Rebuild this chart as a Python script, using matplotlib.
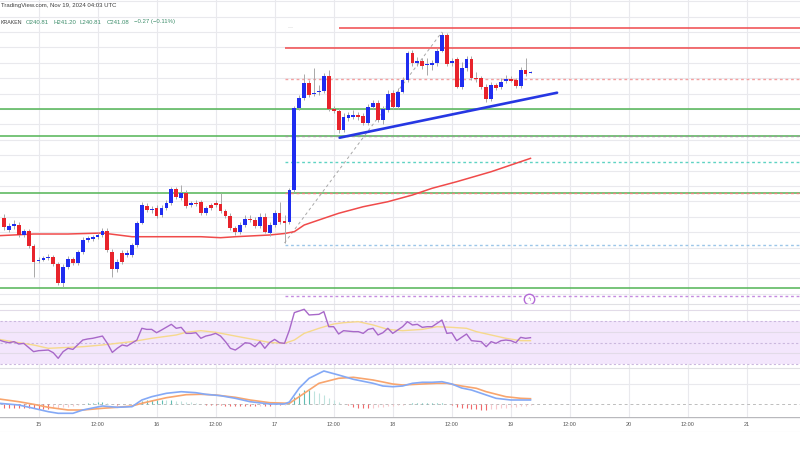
import matplotlib
matplotlib.use("Agg")
import matplotlib.pyplot as plt

# ---------------- data ----------------
hours = list(range(-7, 101))   # hourly candles, hour 0 = Nov 15 00:00 UTC

opens = [217.30, 215.40, 216.00, 216.18, 214.56, 215.13, 212.77,
         210.34, 210.58, 210.78, 210.94, 209.80, 206.72, 209.41, 210.62, 210.06, 211.85,
         213.75, 213.91, 214.23, 214.56, 215.21, 211.85, 208.99, 211.59, 211.31, 211.31,
         212.94, 216.56, 219.27, 218.62, 218.99, 217.80, 218.99, 219.70, 221.98, 220.52,
         221.42, 219.38, 219.80, 219.92, 218.08, 219.43, 219.70, 219.54, 218.45, 217.69,
         215.65, 215.00, 216.18, 217.20, 216.99, 216.02, 217.53, 214.93, 216.18, 218.13,
         216.83, 216.67, 221.86, 235.17, 236.79, 239.28, 237.44, 237.72, 237.98, 240.41,
         234.96, 234.73, 231.60, 233.50, 233.76, 234.04, 233.87, 232.79, 235.38, 236.03,
         233.22, 234.85, 237.56, 235.29, 237.82, 239.72, 244.05, 242.43, 242.85, 242.07,
         242.15, 242.43, 244.47, 247.02, 242.43, 243.08, 238.63, 241.61, 243.08, 240.09,
         239.99, 238.63, 236.58, 238.90, 238.53, 239.55, 239.83, 239.72, 238.74, 241.34, 240.81]
highs = [218.00, 216.50, 217.00, 216.67, 215.50, 215.50, 213.10,
         211.00, 211.15, 211.50, 211.30, 210.20, 209.85, 211.15, 211.00, 212.10, 214.23,
         214.40, 214.56, 214.90, 215.70, 215.65, 212.30, 210.66, 212.10, 212.10, 213.26,
         216.83, 219.96, 219.70, 219.27, 219.43, 219.43, 220.24, 222.35, 222.40, 222.67,
         221.86, 220.08, 220.24, 220.24, 219.27, 219.75, 220.24, 221.33, 218.78, 218.13,
         216.02, 216.67, 217.80, 217.80, 217.48, 218.13, 218.13, 216.67, 218.62, 219.92,
         217.80, 222.19, 235.50, 237.28, 240.69, 239.72, 241.61, 238.90, 240.85, 241.34,
         235.50, 235.17, 234.36, 234.52, 234.85, 234.52, 234.36, 235.82, 236.47, 236.47,
         235.50, 238.09, 238.09, 238.42, 240.20, 244.42, 244.59, 243.45, 243.29, 243.29,
         242.96, 244.91, 247.51, 247.34, 243.29, 243.45, 242.64, 243.61, 243.61, 241.01,
         240.37, 239.07, 239.39, 239.23, 240.04, 240.53, 240.37, 240.04, 241.83, 243.24, 241.20]
lows = [215.40, 215.05, 215.50, 214.23, 214.20, 212.45, 207.79,
        210.00, 210.34, 210.50, 209.50, 206.45, 206.17, 209.04, 209.70, 209.70, 211.48,
        213.40, 213.60, 213.90, 214.23, 211.80, 207.80, 208.55, 209.85, 211.00, 211.00,
        212.60, 216.35, 218.30, 218.13, 217.32, 217.48, 218.62, 219.43, 220.40, 220.24,
        218.94, 219.10, 219.27, 217.80, 217.80, 218.62, 219.10, 218.13, 217.32, 215.37,
        214.56, 214.72, 215.86, 216.67, 215.70, 215.70, 214.88, 214.40, 215.86, 216.35,
        213.26, 216.35, 221.54, 234.85, 236.47, 236.96, 237.12, 237.28, 237.60, 234.68,
        234.36, 231.11, 231.28, 233.06, 233.39, 233.22, 232.41, 232.41, 235.01, 232.90,
        232.57, 234.52, 235.01, 235.01, 237.60, 239.39, 241.99, 241.99, 241.50, 240.53,
        241.34, 241.99, 244.26, 241.99, 241.99, 238.42, 238.26, 241.18, 239.72, 239.39,
        238.26, 236.15, 236.31, 238.09, 238.26, 239.23, 239.39, 238.42, 238.42, 240.37, 240.81]
closes = [215.90, 216.00, 216.35, 214.56, 215.21, 212.77, 210.23,
          210.58, 210.78, 210.94, 209.80, 206.72, 209.41, 210.62, 210.06, 211.85, 213.75,
          214.02, 214.19, 214.56, 215.21, 212.13, 208.99, 210.23, 210.23, 211.59, 212.94,
          216.56, 219.43, 218.62, 218.73, 217.64, 218.99, 219.70, 221.98, 220.68, 221.42,
          219.27, 219.70, 219.54, 218.08, 218.89, 218.99, 219.43, 218.45, 217.69, 215.65,
          215.00, 216.18, 217.11, 216.99, 216.02, 217.53, 215.10, 216.18, 218.13, 216.67,
          216.51, 221.86, 235.17, 236.79, 239.23, 237.28, 237.65, 237.98, 240.41, 234.96,
          234.73, 231.60, 233.66, 234.04, 234.04, 233.66, 232.79, 235.38, 235.93, 233.22,
          234.96, 237.44, 235.29, 237.82, 239.72, 244.05, 242.43, 242.85, 241.99, 242.15,
          242.43, 244.47, 247.02, 242.31, 242.85, 238.63, 241.61, 243.08, 239.99, 239.88,
          238.63, 236.58, 238.90, 238.37, 239.44, 239.83, 239.60, 238.74, 241.34, 240.64, 241.08]

ma_hours = [-8, -1, 6, 13, 19, 26, 33, 37, 40, 47, 50, 52, 54, 58, 61, 66, 71, 76, 80, 85, 92, 100]
ma_values = [214.45, 214.72, 214.72, 214.88, 214.28, 214.28, 214.28, 214.12, 214.28, 214.56,
             214.80, 215.10, 216.18, 217.27, 218.08, 219.15, 219.96, 221.05, 222.14, 223.21,
             224.83, 227.00]

support_levels = [235.09, 230.63, 221.41, 205.91]
resistance_levels = [244.86, 248.11]
resistance_start = [50, 61]
fib_start = 50
fib_levels = [212.94, 221.41, 226.36, 230.63, 239.80, 204.58]
fib_colors = ["#9cc6e8", "#f08080", "#5fd3c3", "#9a9a9a", "#f4a0a0", "#c58be0"]
fib_anchor_hours = [50, 82]
fib_anchor_prices = [213.26, 247.51]
trend_hours = [61.2, 105.4]
trend_prices = [230.35, 237.65]
marker_hour = 99.7
marker_price = 204.17

rsi_hours = [-8, -7, -6, -5, -4, -3, -1, 0, 2, 3, 4, 5, 6, 7, 9, 10, 11,
             13, 14, 15, 16, 17, 18, 20, 21, 22, 23, 24, 25,
             27, 28, 29, 30, 31, 32, 33, 34, 35, 36, 37, 38, 39, 40,
             41, 42, 43, 44, 45, 46, 47, 48, 49, 50, 51, 52,
             54, 55, 57, 58, 59, 60, 61, 62,
             64, 65, 66, 67, 68, 69, 70, 71, 72, 73, 74, 75, 76,
             77, 78, 79, 80, 81, 82, 83, 84, 85, 86, 87, 88,
             90, 91, 92, 93, 94, 95, 96, 97, 98, 99, 100]
rsi_values = [52.3, 50.8, 49.8, 50.8, 48.6, 49.2, 41.5, 42.4, 43.0, 40.5, 35.3, 41.5, 44.6, 43.6, 52.3, 53.3, 53.9,
              56.0, 49.2, 40.8, 44.6, 47.7, 46.7, 52.3, 63.2, 62.2, 62.2, 59.1, 61.6,
              66.9, 63.2, 64.1, 58.5, 58.5, 59.1, 53.9, 56.0, 57.0, 58.5, 56.0, 50.8, 44.6, 43.0,
              46.1, 49.8, 49.2, 46.1, 50.8, 44.6, 50.0, 52.9, 49.8, 49.2, 61.6, 77.8,
              80.9, 75.6, 76.2, 78.7, 64.7, 64.7, 57.9, 61.0,
              60.1, 60.1, 58.5, 62.2, 63.2, 57.0, 59.1, 63.2, 58.5, 61.6, 64.7, 69.4, 66.3,
              66.9, 64.1, 64.7, 64.7, 67.8, 70.9, 58.5, 59.1, 51.7, 54.8, 57.9, 51.7,
              50.8, 46.1, 50.8, 49.2, 51.7, 52.3, 51.7, 49.8, 54.8, 53.9, 54.5]
rsi_ma_hours = [-8, -4, -1, 2, 9, 13, 19, 23, 28, 30, 33, 36, 40, 47, 50, 52, 54, 57, 60, 62,
                65, 68, 71, 74, 78, 81, 84, 87, 89, 92, 95, 98, 100]
rsi_ma_values = [52.9, 49.8, 47.7, 44.6, 46.1, 47.7, 50.8, 53.9, 57.0, 59.5, 61.0, 59.5, 56.0, 50.0,
                 49.2, 52.3, 58.5, 63.2, 67.2, 68.4, 69.4, 66.3, 62.2, 61.0, 62.2, 64.7, 64.1,
                 63.2, 60.1, 57.0, 53.9, 51.7, 51.7]

macd_hours = [-8, -4, -1, 2, 4, 7, 9, 13, 16, 19, 21, 23, 26, 29, 32, 34, 37, 40, 43, 47,
              50, 51, 52, 53, 55, 58, 61, 64, 68, 70, 72, 74, 76, 78, 80, 82, 84, 86, 88, 91,
              93, 96, 100]
macd_values = [0.07, -0.1, -0.43, -0.77, -0.93, -0.93, -0.6, -0.2, -0.33, -0.27,
               0.4, 0.73, 1.07, 1.23, 1.13, 0.97, 0.83, 0.57, 0.23, 0.0,
               0.0, 0.2, 0.9, 1.6, 2.57, 3.3, 2.9, 2.47, 2.07, 1.8,
               1.73, 1.8, 2.07, 2.17, 2.17, 2.23, 2.0, 1.6, 1.4, 0.9,
               0.57, 0.4, 0.4]
signal_hours = [-8, -4, -1, 2, 6, 9, 13, 16, 19, 21, 23, 26, 30, 33, 36, 40, 43, 47, 51, 54,
                57, 61, 64, 68, 72, 74, 78, 81, 83, 86, 89, 91, 95, 98, 100]
signal_values = [0.5, 0.23, -0.03, -0.33, -0.6, -0.6, -0.43, -0.33, -0.2, 0.07,
                 0.3, 0.63, 0.93, 0.97, 0.9, 0.67, 0.4, 0.13, 0.07, 1.07,
                 2.07, 2.57, 2.67, 2.4, 2.0, 1.9, 2.0, 2.07, 2.07, 1.8,
                 1.57, 1.23, 0.73, 0.57, 0.53]
hist_values = [-0.35, -0.35, -0.35, -0.35, -0.4, -0.4, -0.4,
               -0.45, -0.45, -0.45, -0.4, -0.35, -0.3, -0.25, -0.2, -0.1, 0.0,
               0.1, 0.15, 0.2, 0.2, 0.1, 0.0, -0.05, 0.0, 0.0, 0.05,
               0.2, 0.3, 0.4, 0.45, 0.45, 0.45, 0.4, 0.4, 0.35, 0.3,
               0.25, 0.2, 0.1, 0.0, -0.05, -0.1, -0.1, -0.1, -0.15, -0.2,
               -0.2, -0.2, -0.2, -0.2, -0.2, -0.15, -0.15, -0.15, -0.1, -0.1,
               -0.05, 0.2, 0.7, 1.1, 1.4, 1.4, 1.3, 1.1, 0.9, 0.6,
               0.4, 0.2, 0.05, -0.1, -0.25, -0.35, -0.4, -0.4, -0.35, -0.3,
               -0.25, -0.2, -0.15, -0.1, -0.05, 0.05, 0.1, 0.15, 0.15, 0.15,
               0.15, 0.15, 0.15, 0.05, -0.1, -0.25, -0.35, -0.4, -0.45, -0.5,
               -0.55, -0.6, -0.5, -0.45, -0.4, -0.35, -0.3, -0.25, -0.2, -0.15, -0.1]

grid_hours = list(range(0, 157, 12))
tick_hours = list(range(0, 145, 12))
tick_labels = ["15", "12:00", "16", "12:00", "17", "12:00", "18", "12:00",
               "19", "12:00", "20", "12:00", "21"]

header_line1 = "TradingView.com, Nov 19, 2024 04:03 UTC"
header_symbol = "KRAKEN"
header_values = ["O240.81", "H241.20", "L240.81", "C241.08", "\u22120.27 (\u22120.11%)"]

# ---------------- figure ----------------
W, H = 800, 450
PX_PER_HOUR = 4.92
X0 = 38.5
XMIN = -X0 / PX_PER_HOUR
XMAX = (W - X0) / PX_PER_HOUR
FONT = ["Liberation Sans", "DejaVu Sans"]
GRID = "#e9e9ed"

fig = plt.figure(figsize=(8, 4.5), dpi=100)
fig.patch.set_facecolor("white")


def pane(top, bottom):
    a = fig.add_axes([0, 1 - bottom / H, 1, (bottom - top) / H])
    a.set_xlim(XMIN, XMAX)
    a.set_xticks([])
    a.set_yticks([])
    for s in a.spines.values():
        s.set_visible(False)
    a.set_facecolor("none")
    return a


ax = pane(0, 304)
ax_rsi = pane(304, 368)
ax_macd = pane(368, 417)
ax_time = pane(417, 432)

ax.set_ylim(203.36, 252.7)
ax_rsi.set_ylim(26.3, 85.8)
ax_macd.set_ylim(-1.3, 3.6)
ax_time.set_ylim(0, 1)

# grid
for a in (ax, ax_rsi, ax_macd):
    for th in grid_hours:
        a.axvline(th, color=GRID, lw=0.8, zorder=0)
p = 205.0
while p < 253:
    ax.axhline(p, color=GRID, lw=0.8, zorder=0)
    p += 2.5

# pane separators / time axis
ax_time.axhline(1, color="#b9b9bd", lw=1.0)
ax_time.axhline(0, color="#e4e4e8", lw=0.8)
ax_rsi.axhline(85.8, color="#e0e0e4", lw=0.8, clip_on=False)
ax_macd.axhline(3.6, color="#e0e0e4", lw=0.8, clip_on=False)
for th, lab in zip(tick_hours, tick_labels):
    ax_time.text(th, 0.5, lab, fontsize=4.0, color="#555555", ha="center", va="center",
                 family=FONT)

# ---- main pane ----
for lv in support_levels:
    ax.axhline(lv, color="#52b455", lw=1.1, zorder=1)
for lv, st in zip(resistance_levels, resistance_start):
    ax.hlines(lv, st, XMAX, color="#f0494c", lw=1.1, zorder=1)
for lv, c in zip(fib_levels, fib_colors):
    ax.hlines(lv, fib_start, XMAX, color=c, lw=1.0, linestyles=(0, (2, 2)), zorder=1.5)
ax.plot(fib_anchor_hours, fib_anchor_prices, color="#a8a8a8", lw=0.7, ls=(0, (3, 3)), zorder=1.5)
ax.plot(ma_hours, ma_values, color="#f04a4a", lw=1.1, zorder=2)

UP, DOWN = "#1f2df0", "#e8232b"
for h, o, hi, lo, c in zip(hours, opens, highs, lows, closes):
    col = UP if c >= o else DOWN
    ax.vlines(h, lo, hi, color="#a9a9a9", lw=0.7, zorder=2.5)
    b = min(o, c)
    ht = max(abs(c - o), 0.17)
    ax.bar(h, ht, bottom=b, width=0.78, color=col, edgecolor="none", zorder=3)

ax.plot(trend_hours, trend_prices, color="#2637e3", lw=1.9, solid_capstyle="round", zorder=4)
ax.plot(marker_hour, marker_price, marker="o", ms=7.5, mfc="white", mec="#b36ad6", mew=1.0, zorder=5)
ax.text(marker_hour, marker_price, "\u03df", fontsize=4.0, color="#b36ad6", ha="center", va="center",
        zorder=6, family=["DejaVu Sans"])

# ---- RSI pane ----
ax_rsi.axhspan(30, 70, color="#f3e6fc", lw=0, zorder=0)
for lv in (80, 60, 40):
    ax_rsi.axhline(lv, color="#e2dbe8", lw=0.8, zorder=0.5)
for lv in (70, 50, 30):
    ax_rsi.axhline(lv, color="#cbb8de", lw=0.8, ls=(0, (2, 2)), zorder=0.6)
ax_rsi.plot(rsi_ma_hours, rsi_ma_values, color="#f6d98c", lw=1.0, zorder=2)
ax_rsi.plot(rsi_hours, rsi_values, color="#a868c9", lw=1.0, zorder=3)

# ---- MACD pane ----
ax_macd.axhline(2.0, color=GRID, lw=0.8, zorder=0)
ax_macd.axhline(0.0, color="#bdbdbd", lw=0.7, ls=(0, (3, 3)), zorder=0.5)
prev = 0.0
for h, v in zip(hours, hist_values):
    if v >= 0:
        col = "#5fbcb2" if v >= prev else "#bfe3de"
    else:
        col = "#f0696b" if v <= prev else "#f8c8cc"
    ax_macd.vlines(h, 0, v, color=col, lw=0.8, zorder=1)
    prev = v
ax_macd.plot(signal_hours, signal_values, color="#f8a56e", lw=1.2, zorder=2)
ax_macd.plot(macd_hours, macd_values, color="#84a9f6", lw=1.2, zorder=3)

# ---- header ----
def fx(px):
    return px / W


def fy(py):
    return 1 - py / H


fig.text(fx(1), fy(6), header_line1, fontsize=4.3, color="#3c3c3c", ha="left", va="center", family=FONT)
fig.text(fx(0.5), fy(22), header_symbol, fontsize=3.8, color="#3c3c3c", ha="left", va="center", family=FONT)
for xp, s in zip([26, 53, 80, 107, 134], header_values):
    fig.text(fx(xp), fy(22), s, fontsize=4.3, color="#3f8f6c", ha="left", va="center", family=FONT)
fig.text(fx(290), fy(28), "\u00b7\u00b7\u00b7", fontsize=4.3, color="#9a9a9a", ha="center", va="center", family=FONT)

fig.savefig("out.png", dpi=100, facecolor="white")
